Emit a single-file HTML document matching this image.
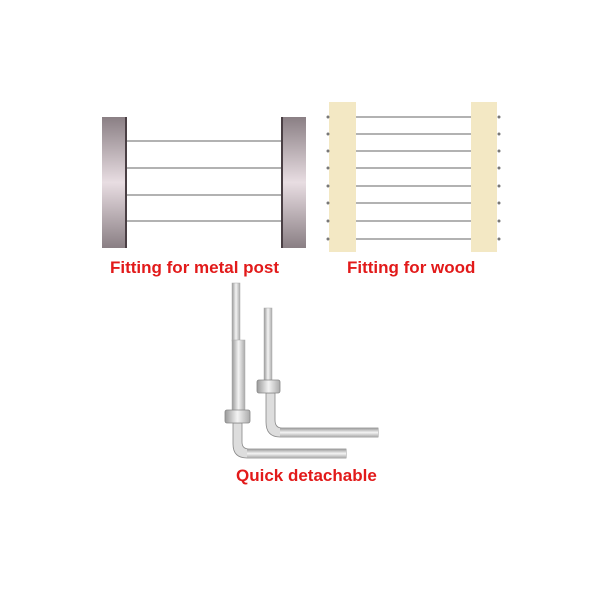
<!DOCTYPE html>
<html><head><style>
body{margin:0;background:#fff;width:600px;height:600px;overflow:hidden;position:relative}
.t{position:absolute;font-family:"Liberation Sans",sans-serif;font-weight:bold;color:#e21a1a;font-size:17px;white-space:nowrap}
</style></head><body>
<svg width="600" height="600" style="position:absolute;left:0;top:0">
<defs>
<linearGradient id="m" x1="0" x2="0" y1="0" y2="1">
<stop offset="0" stop-color="#8a7f84"/><stop offset="0.5" stop-color="#e8dde2"/><stop offset="1" stop-color="#8a7f84"/></linearGradient>
<linearGradient id="s" x1="0" x2="1"><stop offset="0" stop-color="#999"/><stop offset="0.5" stop-color="#f4f4f4"/><stop offset="1" stop-color="#aaa"/></linearGradient>
<linearGradient id="sh" x1="0" x2="0" y1="0" y2="1"><stop offset="0" stop-color="#999"/><stop offset="0.5" stop-color="#f4f4f4"/><stop offset="1" stop-color="#aaa"/></linearGradient>
</defs>
<g stroke="#999" stroke-width="1.5">
<line x1="127" y1="141" x2="281" y2="141"/><line x1="127" y1="168" x2="281" y2="168"/>
<line x1="127" y1="195" x2="281" y2="195"/><line x1="127" y1="221" x2="281" y2="221"/>
</g>
<rect x="102" y="117" width="25" height="131" fill="url(#m)"/>
<rect x="125" y="117" width="2" height="131" fill="#4a3f44"/>
<rect x="281" y="117" width="25" height="131" fill="url(#m)"/>
<rect x="281" y="117" width="2" height="131" fill="#4a3f44"/>
<g stroke="#999" stroke-width="1.5">
<line x1="356" y1="117" x2="471" y2="117"/><line x1="356" y1="134" x2="471" y2="134"/>
<line x1="356" y1="151" x2="471" y2="151"/><line x1="356" y1="168" x2="471" y2="168"/>
<line x1="356" y1="186" x2="471" y2="186"/><line x1="356" y1="203" x2="471" y2="203"/>
<line x1="356" y1="221" x2="471" y2="221"/><line x1="356" y1="239" x2="471" y2="239"/>
</g>
<rect x="329" y="102" width="27" height="150" fill="#f3e8c4"/>
<rect x="471" y="102" width="26" height="150" fill="#f3e8c4"/>
<g fill="#777">
<circle cx="328" cy="117" r="1.5"/><circle cx="328" cy="134" r="1.5"/><circle cx="328" cy="151" r="1.5"/><circle cx="328" cy="168" r="1.5"/>
<circle cx="328" cy="186" r="1.5"/><circle cx="328" cy="203" r="1.5"/><circle cx="328" cy="221" r="1.5"/><circle cx="328" cy="239" r="1.5"/>
<circle cx="499" cy="117" r="1.5"/><circle cx="499" cy="134" r="1.5"/><circle cx="499" cy="151" r="1.5"/><circle cx="499" cy="168" r="1.5"/>
<circle cx="499" cy="186" r="1.5"/><circle cx="499" cy="203" r="1.5"/><circle cx="499" cy="221" r="1.5"/><circle cx="499" cy="239" r="1.5"/>
</g>
<rect x="264" y="308" width="8" height="75" fill="url(#s)" stroke="#aaa" stroke-width="0.5"/>
<path d="M266 393 V422 Q266 437 280 437 H378 V428 H282 Q275 428 275 420 V393 Z" fill="#ddd" stroke="#888" stroke-width="0.8"/>
<rect x="280" y="428" width="98" height="9" fill="url(#sh)"/>
<rect x="257" y="380" width="23" height="13" rx="2" fill="url(#s)" stroke="#888" stroke-width="0.8"/>
<rect x="232" y="283" width="8" height="58" fill="url(#s)" stroke="#aaa" stroke-width="0.5"/>
<rect x="232" y="340" width="13" height="72" fill="url(#s)" stroke="#aaa" stroke-width="0.5"/>
<path d="M233 423 V444 Q233 458 247 458 H346 V449 H249 Q242 449 242 442 V423 Z" fill="#ddd" stroke="#888" stroke-width="0.8"/>
<rect x="247" y="449" width="99" height="9" fill="url(#sh)"/>
<rect x="225" y="410" width="25" height="13" rx="2" fill="url(#s)" stroke="#888" stroke-width="0.8"/>
</svg>
<div class="t" style="left:110px;top:258px">Fitting for metal post</div>
<div class="t" style="left:347px;top:258px">Fitting for wood</div>
<div class="t" style="left:236px;top:466px">Quick detachable</div>
</body></html>
